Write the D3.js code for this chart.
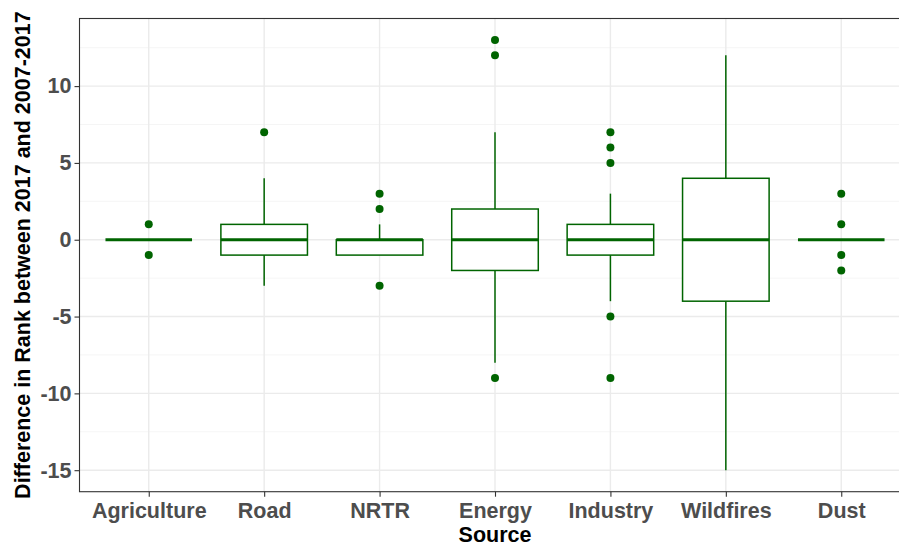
<!DOCTYPE html>
<html>
<head>
<meta charset="utf-8">
<script src="https://cdn.jsdelivr.net/npm/d3@7"></script>
<style>
  html, body { margin: 0; padding: 0; background: #fff; }
  svg { display: block; font-family: "Liberation Sans", Arial, Helvetica, sans-serif; }
</style>
</head>
<body>
<svg id="chart" width="899" height="550"></svg>
<script>
// Rank-change summaries per emission source
const categories   = ["Agriculture", "Road", "NRTR", "Energy", "Industry", "Wildfires", "Dust"];
const lowerWhisker = [0, -3, -1, -8, -4, -15, 0];
const lowerQuartile = [0, -1, -1, -2, -1, -4, 0];
const medians      = [0, 0, 0, 0, 0, 0, 0];
const upperQuartile = [0, 1, 0, 2, 1, 4, 0];
const upperWhisker = [0, 4, 1, 7, 3, 12, 0];
const outliers     = [
  [1, -1],
  [7],
  [3, 2, -3],
  [13, 12, -9],
  [7, 6, 5, -5, -9],
  [],
  [3, 1, -1, -2]
];
const yTicks = [-15, -10, -5, 0, 5, 10];
const yMinorTicks = [-12.5, -7.5, -2.5, 2.5, 7.5, 12.5];

const boxes = categories.map((c, i) => ({
  cat: c,
  lo: lowerWhisker[i], q1: lowerQuartile[i], med: medians[i],
  q3: upperQuartile[i], hi: upperWhisker[i], out: outliers[i]
}));

const svg = d3.select("#chart");
const panel = { left: 79.5, top: 18.5, right: 910.5, bottom: 491.7 };
const green = "#006400";

// data range padded by 5% on each side
const allVals = boxes.flatMap(b => [b.lo, b.hi, ...b.out]);
const [dMin, dMax] = d3.extent(allVals);
const pad = (dMax - dMin) * 0.05;

const y = d3.scaleLinear().domain([dMin - pad, dMax + pad]).range([panel.bottom, panel.top]);
const x = d3.scalePoint().domain(categories).range([panel.left, panel.right]).padding(0.6);
const boxW = x.step() * 0.75;

// panel background grid
const grid = svg.append("g");
grid.selectAll("line.minor").data(yMinorTicks).join("line")
  .attr("x1", panel.left).attr("x2", panel.right)
  .attr("y1", d => y(d)).attr("y2", d => y(d))
  .attr("stroke", "#F2F2F2").attr("stroke-width", 0.8);
grid.selectAll("line.majorY").data(yTicks).join("line")
  .attr("x1", panel.left).attr("x2", panel.right)
  .attr("y1", d => y(d)).attr("y2", d => y(d))
  .attr("stroke", "#EBEBEB").attr("stroke-width", 1.4);
grid.selectAll("line.majorX").data(categories).join("line")
  .attr("x1", d => x(d)).attr("x2", d => x(d))
  .attr("y1", panel.top).attr("y2", panel.bottom)
  .attr("stroke", "#EBEBEB").attr("stroke-width", 1.4);

// boxplots
const g = svg.append("g");
const bx = g.selectAll("g.box").data(boxes).join("g").attr("transform", d => `translate(${x(d.cat)},0)`);

bx.append("line")
  .attr("x1", 0).attr("x2", 0).attr("y1", d => y(d.q3)).attr("y2", d => y(d.hi))
  .attr("stroke", green).attr("stroke-width", 1.5);
bx.append("line")
  .attr("x1", 0).attr("x2", 0).attr("y1", d => y(d.q1)).attr("y2", d => y(d.lo))
  .attr("stroke", green).attr("stroke-width", 1.5);
bx.append("rect")
  .attr("x", -boxW / 2).attr("width", boxW)
  .attr("y", d => y(d.q3)).attr("height", d => y(d.q1) - y(d.q3))
  .attr("fill", "#fff").attr("stroke", green).attr("stroke-width", 1.5);
bx.append("line")
  .attr("x1", -boxW / 2).attr("x2", boxW / 2)
  .attr("y1", d => y(d.med)).attr("y2", d => y(d.med))
  .attr("stroke", green).attr("stroke-width", 3.2);
bx.selectAll("circle").data(d => d.out).join("circle")
  .attr("cx", 0).attr("cy", d => y(d)).attr("r", 4)
  .attr("fill", green);

// panel border
svg.append("rect")
  .attr("x", panel.left).attr("y", panel.top)
  .attr("width", panel.right - panel.left).attr("height", panel.bottom - panel.top)
  .attr("fill", "none").attr("stroke", "#333").attr("stroke-width", 1.1);

// axes
const yAxis = svg.append("g").attr("transform", `translate(${panel.left},0)`)
  .call(d3.axisLeft(y).tickValues(yTicks).tickSize(5).tickPadding(3).tickFormat(d3.format("d")));
const xAxis = svg.append("g").attr("transform", `translate(0,${panel.bottom})`)
  .call(d3.axisBottom(x).tickSize(5).tickPadding(6));
[yAxis, xAxis].forEach(a => {
  a.select(".domain").remove();
  a.selectAll(".tick line").attr("stroke", "#333").attr("stroke-width", 1.1);
  a.selectAll(".tick text")
    .attr("fill", "#4D4D4D").attr("font-size", "21.5px").attr("font-weight", "bold")
    .attr("font-family", "'Liberation Sans', Arial, Helvetica, sans-serif");
});
yAxis.selectAll(".tick text").text(d => d < 0 ? "-" + Math.abs(d) : d);

// axis titles
svg.append("text")
  .attr("x", (panel.left + 910.5) / 2).attr("y", 541.5)
  .attr("text-anchor", "middle")
  .attr("font-size", "21.5px").attr("font-weight", "bold").attr("fill", "#000")
  .text("Source");
svg.append("text")
  .attr("transform", `translate(29.5,${(panel.top + panel.bottom) / 2}) rotate(-90)`)
  .attr("text-anchor", "middle")
  .attr("font-size", "21.5px").attr("font-weight", "bold").attr("fill", "#000")
  .text("Difference in Rank between 2017 and 2007-2017");
</script>
</body>
</html>
